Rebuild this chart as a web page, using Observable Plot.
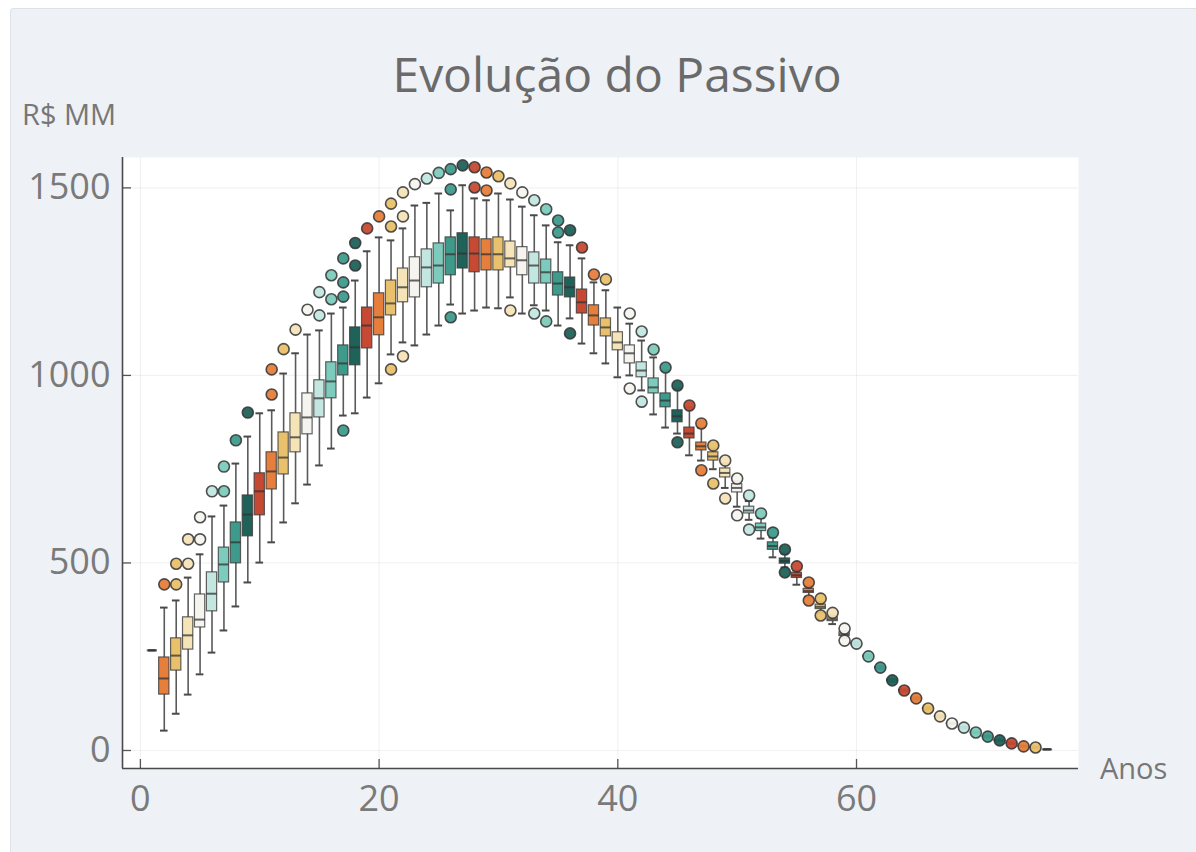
<!DOCTYPE html>
<html><head><meta charset="utf-8">
<script src="https://cdn.jsdelivr.net/npm/d3@7"></script>
<script src="https://cdn.jsdelivr.net/npm/@observablehq/plot@0.6"></script>
<style>
html,body{margin:0;padding:0;background:#ffffff;width:1196px;height:852px;overflow:hidden;}
#card{position:absolute;left:10px;top:8px;width:1200px;height:860px;background:#eef2f6;border:1px solid #dde2e8;border-radius:3px;}
.txt{position:absolute;font-family:'Open Sans',sans-serif;color:#6a6a6a;white-space:nowrap;}
#title{left:0;width:1234px;top:42px;text-align:center;font-size:48px;line-height:64px;}
#ylab{left:22px;top:96px;font-size:29px;line-height:36px;color:#777;}
#xlab{left:1100px;top:748px;font-size:29px;line-height:40px;color:#777;}
#chart{position:absolute;left:0;top:140px;}
</style>
</head><body>
<div id="card"></div>
<div class="txt" id="title">Evolução do Passivo</div>
<div class="txt" id="ylab">R$ MM</div>
<div class="txt" id="xlab">Anos</div>
<div id="chart"></div>
<script>
// Anos (categorias)
const anos = [1,2,3,4,5,6,7,8,9,10,11,12,13,14,15,16,17,18,19,20,21,22,23,24,25,26,27,28,29,30,31,32,33,34,35,36,37,38,39,40,41,42,43,44,45,46,47,48,49,50,51,52,53,54,55,56,57,58,59,60,61,62,63,64,65,66,67,68,69,70,71,72,73,74,75,76];
// Estatísticas das caixas (R$ MM)
const minimo  = [267,53,98,149,203,261,320,384,448,501,555,608,659,709,760,805,893,899,941,979,1056,1088,1080,1109,1133,1189,1165,1173,1181,1179,1208,1165,1187,1173,1133,1152,1085,1059,1032,995,1000,960,896,861,845,787,773,750,700,650,615,565,515,488,442,410,368,337,300,280,247,217,183,157,136,109,88,70,59,46,35,25,17,10,6,3];
const quartil1 = [267,149,213,269,328,371,448,499,571,627,696,736,795,843,888,939,1000,1027,1072,1107,1160,1195,1208,1235,1245,1267,1285,1275,1280,1280,1288,1267,1245,1245,1213,1208,1165,1133,1104,1067,1032,995,952,915,875,832,800,773,728,688,632,585,535,498,460,420,377,345,305,283,249,219,185,159,138,111,90,71,60,47,36,26,18,11,7,3];
const mediana  = [267,192,253,307,349,418,496,555,629,691,744,781,835,888,939,984,1032,1075,1133,1155,1192,1235,1253,1288,1293,1323,1325,1325,1323,1323,1312,1307,1293,1275,1245,1235,1195,1160,1128,1088,1059,1013,968,933,891,845,811,784,740,700,640,595,545,505,467,425,383,350,310,285,251,221,187,160,139,112,91,72,61,48,37,27,19,11,8,3];
const quartil3 = [267,248,299,355,416,475,541,608,680,739,795,848,899,952,987,1035,1080,1128,1181,1219,1253,1285,1315,1336,1352,1368,1379,1368,1363,1368,1357,1342,1328,1309,1275,1261,1229,1187,1152,1115,1080,1035,992,952,907,861,821,795,752,710,650,605,555,512,474,431,389,355,315,287,253,223,189,161,140,113,92,73,62,49,38,28,20,12,9,3];
const maximo   = [267,381,400,461,523,624,653,765,837,899,907,1005,1059,1109,1120,1165,1181,1253,1331,1368,1360,1392,1453,1460,1485,1440,1507,1472,1467,1485,1469,1450,1427,1400,1355,1347,1312,1248,1227,1181,1138,1093,1048,1013,965,915,861,805,765,718,665,620,568,525,480,438,396,360,318,290,255,225,191,163,142,115,94,74,63,50,39,29,21,13,10,3];
// Valores atípicos (outliers)
const outlierAno = [2,3,3,4,4,5,5,6,7,7,8,9,11,11,12,13,14,15,15,16,16,17,17,17,17,18,18,19,20,21,21,21,22,22,22,23,24,25,26,26,26,27,28,28,29,29,30,31,31,32,33,33,34,34,35,35,36,36,37,38,39,41,41,42,42,43,44,45,45,46,47,47,48,48,49,49,50,50,51,51,52,53,54,54,55,56,56,57,57,58,59,59,60,61,62,63,64,65,66,67,68,69,70,71,72,73,74,75];
const outlierValor = [443,443,498,498,563,563,622,691,691,757,827,901,949,1016,1070,1122,1175,1160,1222,1203,1267,853,1210,1248,1312,1293,1353,1392,1424,1016,1397,1458,1051,1424,1488,1510,1525,1540,1155,1496,1550,1560,1501,1555,1493,1541,1531,1173,1512,1488,1165,1467,1144,1443,1381,1413,1112,1387,1341,1269,1256,965,1165,930,1117,1069,1021,822,973,920,747,872,712,813,672,773,627,725,589,680,632,581,475,536,491,400,448,360,405,367,293,325,285,251,221,187,160,139,112,91,72,61,48,37,27,19,11,8];
// Eixos
const xTicks = [0,20,40,60];
const yTicks = [0,500,1000,1500];
const xDomain = [-1.5, 78.6];
const yDomain = [-48, 1581];
const paleta = ["#c64a33","#e67e3c","#e9c06c","#f5e4b8","#f6f4ef","#c3e7e0","#7dcbbd","#3e9b8c","#1f625a"];

const caixas = anos.map((a,i)=>({ano:a, lo:minimo[i], q1:quartil1[i], med:mediana[i], q3:quartil3[i], hi:maximo[i], grupo:(a-1)%9}));
const outliers = outlierAno.map((a,i)=>({ano:a, v:outlierValor[i], grupo:(a-1)%9}));
const hw = 0.43, cw = 0.32;

const chart = Plot.plot({
  width: 1196, height: 712,
  marginLeft: 122, marginRight: 118, marginTop: 17, marginBottom: 84,
  style: {fontFamily: "'Open Sans', sans-serif", fontSize: "36px", color: "#7a7a7a", background: "transparent", overflow: "visible"},
  x: {domain: xDomain},
  y: {domain: yDomain},
  color: {type: "ordinal", domain: [0,1,2,3,4,5,6,7,8], range: paleta},
  marks: [
    Plot.frame({fill: "#ffffff", stroke: null}),
    Plot.gridX(xTicks, {stroke: "#000", strokeOpacity: 0.05, strokeWidth: 1.2}),
    Plot.gridY(yTicks, {stroke: "#000", strokeOpacity: 0.05, strokeWidth: 1.2}),
    Plot.axisY(yTicks, {tickSize: -9, tickPadding: 21, label: null, tickFormat: d => String(d), stroke: "#555", strokeWidth: 1.3}),
    Plot.axisX(xTicks, {tickSize: -9, tickPadding: 26, label: null, tickFormat: d => String(d), stroke: "#555", strokeWidth: 1.3}),
    Plot.ruleX([xDomain[0]], {stroke: "#4a4a4a", strokeWidth: 1.6}),
    Plot.ruleY([yDomain[0]], {stroke: "#4a4a4a", strokeWidth: 1.6}),
    // whiskers
    Plot.ruleX(caixas, {x: "ano", y1: "lo", y2: "hi", stroke: "#5a5a5a", strokeWidth: 1.6}),
    Plot.ruleY(caixas, {y: "lo", x1: d=>d.ano-cw, x2: d=>d.ano+cw, stroke: "#4a4a4a", strokeWidth: 2}),
    Plot.ruleY(caixas, {y: "hi", x1: d=>d.ano-cw, x2: d=>d.ano+cw, stroke: "#4a4a4a", strokeWidth: 2}),
    // boxes
    Plot.rectY(caixas, {x1: d=>d.ano-hw, x2: d=>d.ano+hw, y1: "q1", y2: "q3", fill: "grupo", stroke: "#3c3c3c", strokeOpacity: 0.8, strokeWidth: 1.2}),
    Plot.ruleY(caixas, {y: "med", x1: d=>d.ano-hw, x2: d=>d.ano+hw, stroke: "#333", strokeOpacity: 0.75, strokeWidth: 2}),
    // outliers
    Plot.dot(outliers, {x: "ano", y: "v", r: 5.5, fill: "grupo", fillOpacity: 0.95, stroke: "#333", strokeOpacity: 0.85, strokeWidth: 1.6})
  ]
});
document.getElementById("chart").appendChild(chart);
</script>
</body></html>
